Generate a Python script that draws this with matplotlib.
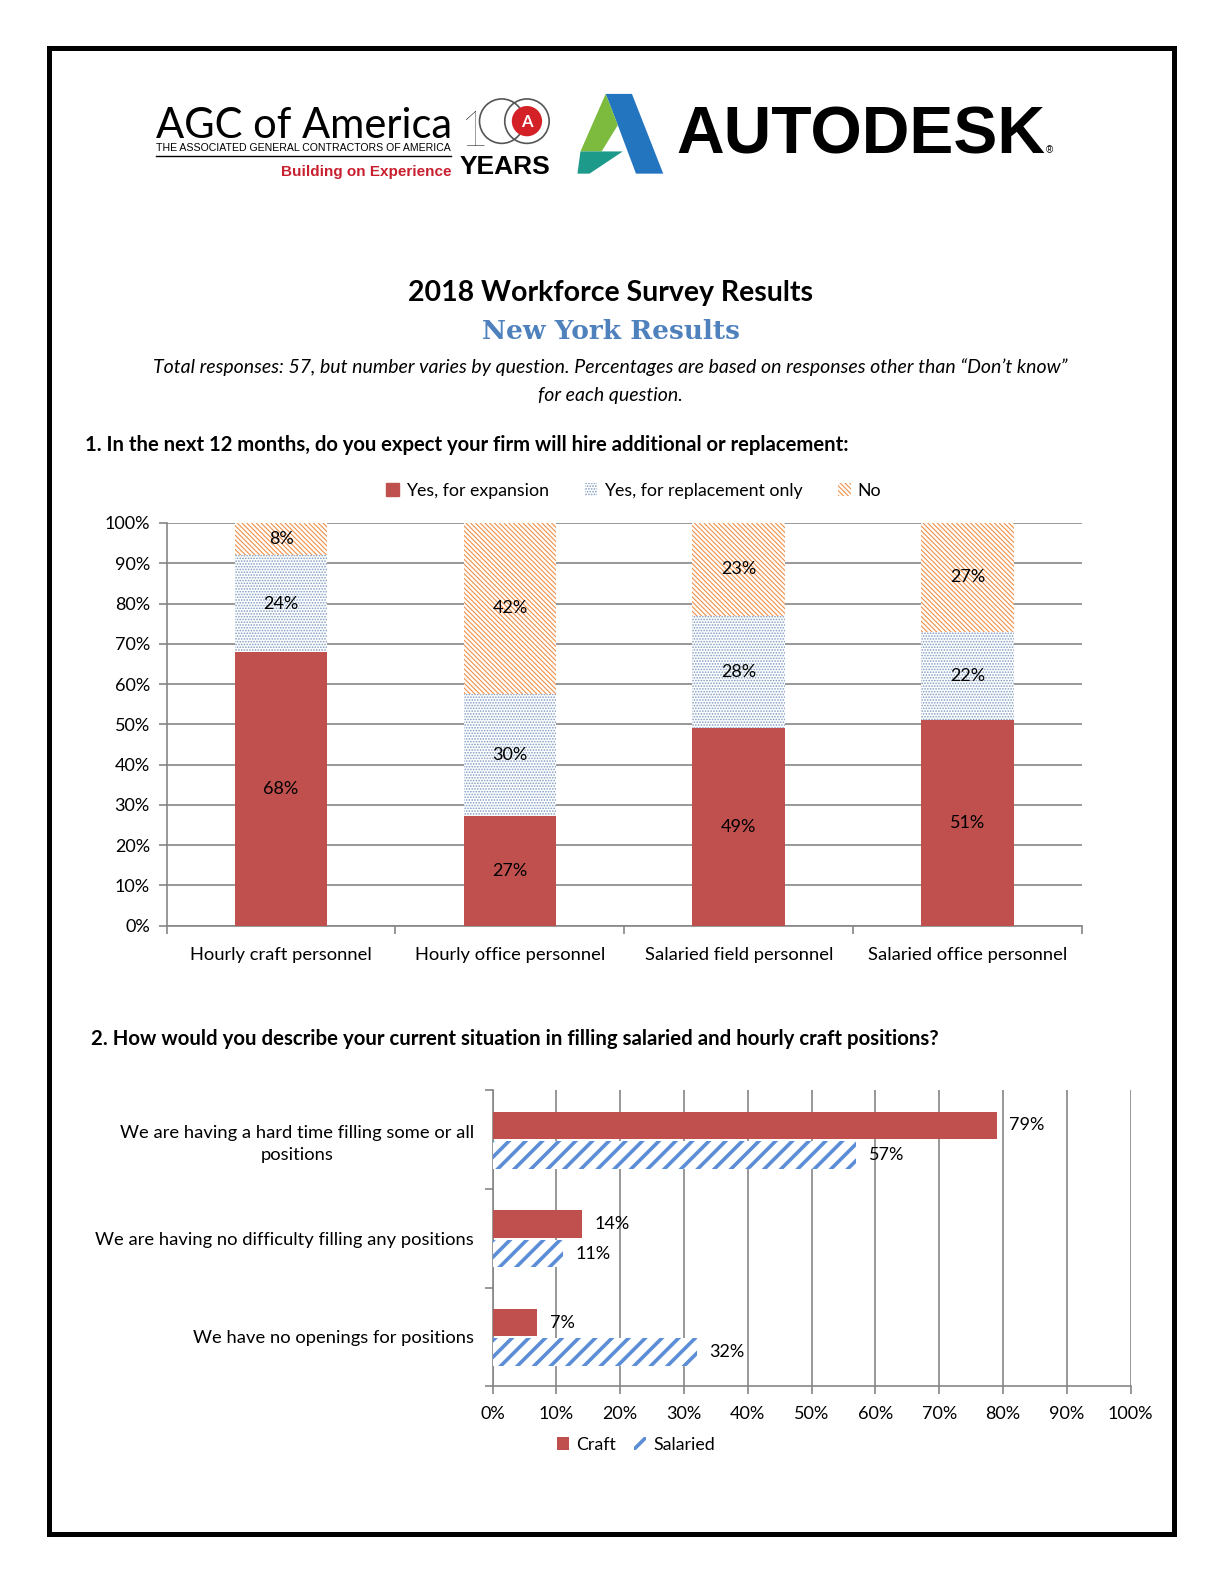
import numpy as np
import matplotlib
matplotlib.use("Agg")
import matplotlib.pyplot as plt
from matplotlib.patches import Rectangle, Polygon, Circle, Patch
from matplotlib.ticker import MultipleLocator, FixedLocator

plt.rcParams['font.family'] = ['Lato', 'DejaVu Sans']

# ---- data ----
q1_cats = ["Hourly craft personnel", "Hourly office personnel",
           "Salaried field personnel", "Salaried office personnel"]
q1_expansion = [68, 27, 49, 51]
q1_replacement = [24, 30, 28, 22]
q1_no = [8, 42, 23, 27]
q1_series = ["Yes, for expansion", "Yes, for replacement only", "No"]

q2_cats = ["We are having a hard time filling some or all\npositions",
           "We are having no difficulty filling any positions",
           "We have no openings for positions"]
q2_craft = [79, 14, 7]
q2_salaried = [57, 11, 32]

RED = "#C0504D"
DOTS = "#7F9BC0"
ORANGE = "#F0904A"
BLUE = "#5B8ED6"
GRID = "#868686"

WR, HR = 1212.5, 1569.0   # reference coordinates used for placement


def rect(x0, y0, x1, y1):
    return [x0 / WR, 1 - y1 / HR, (x1 - x0) / WR, (y1 - y0) / HR]


def hlw(p, w):
    try:
        p.set_hatch_linewidth(w)
    except AttributeError:
        pass


fig = plt.figure(figsize=(12.24, 15.84), dpi=100)

# page overlay in pixel coords
pg = fig.add_axes([0, 0, 1, 1], zorder=0)
pg.set_xlim(0, WR)
pg.set_ylim(HR, 0)
pg.axis('off')
pg.add_patch(Rectangle((49, 48), 1114, 1471, fill=False, lw=3.6, ec='black'))

# --- logos (approximation) ---
pg.text(155, 137, "AGC of America", fontsize=30, family=['Lato', 'DejaVu Sans'],
        va='baseline', ha='left')
pg.text(155, 150, "THE ASSOCIATED GENERAL CONTRACTORS OF AMERICA", fontsize=7.6,
        family=['Liberation Sans'], va='baseline', ha='left')
pg.plot([155, 447], [155, 155], color='black', lw=1)
pg.text(447, 174, "Building on Experience", fontsize=11, color="#C8202F",
        fontweight='bold', family=['Liberation Sans'],
        ha='right', va='baseline')
pg.text(455, 172, "YEARS", fontsize=19, fontweight='bold',
        family=['Liberation Sans'], ha='left', va='baseline')
pg.text(455, 145, "1", fontsize=36, fontweight='light', ha='left', va='baseline')
pg.add_patch(Circle((497, 120), 22, fill=False, ec='#555555', lw=1.2))
pg.add_patch(Circle((522, 120), 22, fill=False, ec='#555555', lw=1.2))
pg.add_patch(Circle((522, 120), 15, fc='#D42027', ec='none'))
pg.text(522, 121, "A", fontsize=12, color='white', fontweight='bold',
        ha='center', va='center')

pg.add_patch(Polygon([(600, 93), (626, 93), (657, 172), (630, 172), (612, 124)],
                     closed=True, fc='#2475C0', ec='none'))
pg.add_patch(Polygon([(600, 93), (612, 124), (596, 150), (575, 150)],
                     closed=True, fc='#7DBB3F', ec='none'))
pg.add_patch(Polygon([(575, 150), (617, 150), (584, 172), (572, 172)],
                     closed=True, fc='#1E9A8A', ec='none'))
pg.text(670, 152, "AUTODESK", fontsize=47.5, fontweight='bold',
        family=['Liberation Sans'], ha='left', va='baseline')
pg.text(1036, 152, "®", fontsize=7, family=['Liberation Sans'], ha='left', va='baseline')

# --- titles ---
pg.text(605, 290, "2018 Workforce Survey Results", fontsize=20.5, fontweight='bold',
        ha='center', va='center')
pg.text(605, 328, "New York Results", fontsize=19, fontweight='bold',
        family=['DejaVu Serif'], color="#4F81BD", ha='center', va='center')
pg.text(605, 364, "Total responses: 57, but number varies by question. Percentages are "
        "based on responses other than \u201cDon\u2019t know\u201d",
        fontsize=14, style='italic', ha='center', va='center')
pg.text(605, 392, "for each question.", fontsize=14, style='italic',
        ha='center', va='center')
pg.text(84, 441, "1. In the next 12 months, do you expect your firm will hire "
        "additional or replacement:", fontsize=14.6, fontweight='bold',
        ha='left', va='center')
pg.text(90, 1029, "2. How would you describe your current situation in filling "
        "salaried and hourly craft positions?", fontsize=14.7, fontweight='bold',
        ha='left', va='center')

# ---- chart 1: 100% stacked columns ----
ax1 = fig.add_axes(rect(165, 518, 1072, 917), zorder=2)
ax1.patch.set_alpha(0)
exp = np.array(q1_expansion, float)
rep = np.array(q1_replacement, float)
no = np.array(q1_no, float)
tot = exp + rep + no
shares = [exp / tot * 100, rep / tot * 100, no / tot * 100]
labels = [q1_expansion, q1_replacement, q1_no]
x = np.arange(len(q1_cats))
bw = 0.405
bottom = np.zeros(len(x))
styles = [dict(color=RED, lw=0),
          dict(facecolor='white', edgecolor=DOTS, hatch='......', lw=0),
          dict(facecolor='white', edgecolor=ORANGE, hatch='\\\\\\\\\\\\\\', lw=0)]
for k in range(3):
    plt.rcParams['hatch.linewidth'] = 0.8
    bars = ax1.bar(x, shares[k], bw, bottom=bottom, zorder=3, **styles[k])
    for b in bars:
        hlw(b, 0.8)
    for i, b in enumerate(bars):
        ax1.text(b.get_x() + b.get_width() / 2, bottom[i] + shares[k][i] / 2,
                 f"{labels[k][i]}%", ha='center', va='center', fontsize=13,
                 color='black', zorder=5)
    bottom = bottom + shares[k]

ax1.set_xlim(-0.5, len(x) - 0.5)
ax1.set_ylim(0, 100)
ax1.yaxis.set_major_locator(MultipleLocator(10))
ax1.set_yticklabels([f"{int(v)}%" for v in ax1.get_yticks()])
ax1.grid(axis='y', color=GRID, lw=1.2, zorder=0)
ax1.xaxis.set_major_locator(FixedLocator(np.arange(-0.5, len(x), 1.0)))
ax1.set_xticklabels([])
ax1.xaxis.set_minor_locator(FixedLocator(x))
ax1.set_xticklabels(q1_cats, minor=True)
ax1.tick_params(axis='x', which='minor', length=0, pad=15, labelsize=13.2)
ax1.tick_params(axis='x', which='major', length=6, color=GRID, width=1.2)
ax1.tick_params(axis='y', length=6, color=GRID, width=1.2, labelsize=13, pad=6)
for s in ['top', 'right']:
    ax1.spines[s].set_visible(False)
for s in ['left', 'bottom']:
    ax1.spines[s].set_color(GRID)
    ax1.spines[s].set_linewidth(1.2)

h1 = [Patch(color=RED), Patch(facecolor='white', edgecolor=DOTS, hatch='......', lw=0),
      Patch(facecolor='white', edgecolor=ORANGE, hatch='\\\\\\\\\\\\\\', lw=0)]
fig.legend(h1, q1_series, loc='center', bbox_to_anchor=(628 / WR, 1 - 486 / HR),
           ncol=3, frameon=False, fontsize=12.8, handlelength=0.7, handleheight=0.7,
           handletextpad=0.4, columnspacing=2.0)

# ---- chart 2: clustered bars ----
ax2 = fig.add_axes(rect(488, 1080, 1120, 1373), zorder=2)
ax2.patch.set_alpha(0)
y = np.arange(len(q2_cats))
bh = 0.28
plt.rcParams['hatch.linewidth'] = 2.6
b_craft = ax2.barh(y - 0.145, q2_craft, bh, color=RED, lw=0, zorder=3, label='Craft')
b_sal = ax2.barh(y + 0.155, q2_salaried, bh, facecolor='white', edgecolor=BLUE,
                 hatch='//', lw=0, zorder=3, label='Salaried')
for b in b_sal:
    hlw(b, 2.6)
for bars, vals in [(b_craft, q2_craft), (b_sal, q2_salaried)]:
    for b, v in zip(bars, vals):
        ax2.annotate(f"{v}%", (b.get_width(), b.get_y() + b.get_height() / 2),
                     xytext=(9, 0), textcoords='offset points', ha='left',
                     va='center', fontsize=13, zorder=5)
ax2.set_xlim(0, 100)
ax2.set_ylim(len(y) - 0.5, -0.5)
ax2.xaxis.set_major_locator(MultipleLocator(10))
ax2.set_xticklabels([f"{int(v)}%" for v in ax2.get_xticks()])
ax2.grid(axis='x', color=GRID, lw=1.2, zorder=0)
ax2.yaxis.set_major_locator(FixedLocator(np.arange(-0.5, len(y), 1.0)))
ax2.set_yticklabels([])
ax2.yaxis.set_minor_locator(FixedLocator(y))
ax2.set_yticklabels(q2_cats, minor=True, multialignment='center', linespacing=1.45)
ax2.tick_params(axis='y', which='minor', length=0, pad=13.5, labelsize=13.2)
ax2.tick_params(axis='y', which='major', length=6, color=GRID, width=1.2)
ax2.tick_params(axis='x', length=6, color=GRID, width=1.2, labelsize=13, pad=8)
for s in ['top', 'right']:
    ax2.spines[s].set_visible(False)
for s in ['left', 'bottom']:
    ax2.spines[s].set_color(GRID)
    ax2.spines[s].set_linewidth(1.2)

fig.legend([b_craft, b_sal], ['Craft', 'Salaried'], loc='center',
           bbox_to_anchor=(630 / WR, 1 - 1431 / HR), ncol=2, frameon=False,
           fontsize=12.8, handlelength=0.7, handleheight=0.7, handletextpad=0.4,
           columnspacing=1.0)

fig.savefig("out.png", dpi=100)
